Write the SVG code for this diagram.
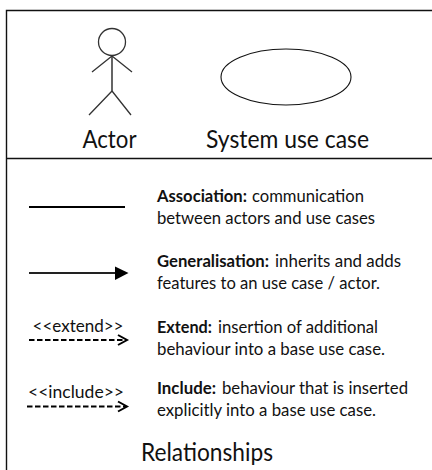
<svg xmlns="http://www.w3.org/2000/svg" width="432" height="470" viewBox="0 0 432 470">
<style>
text{font-family:Lato,"Open Sans",sans-serif;fill:#111;font-size:17.5px}
.b{font-weight:700}
.big{font-size:24.5px}
.lab{font-size:16.5px}
.frame{fill:none;stroke:#111;stroke-width:1.4}
.act{fill:none;stroke:#333;stroke-width:1.3}
.dash{fill:none;stroke:#000;stroke-width:1.8;stroke-dasharray:5.5 2.5}
.open{fill:none;stroke:#000;stroke-width:2}
</style>
<rect width="432" height="470" fill="#fff"/>
<g id="frame"><path class="frame" d="M432 10.5H6.5V470M6.5 158.500H432"/></g>
<g id="actor">
<circle class="act" cx="112" cy="42" r="13.500"/>
<path class="act" d="M112 56V91" style="stroke-width:1.8;stroke:#555"/>
<path class="act" d="M112 56L92 72M112 56L132 72M112 91L89 115M112 91L131 115"/>
<text class="big" x="82.500" y="148" textLength="54" lengthAdjust="spacingAndGlyphs">Actor</text>
</g>
<g id="usecase">
<ellipse cx="286" cy="77" rx="65" ry="28" fill="#fff" stroke="#111" stroke-width="1.1"/>
<text class="big" x="206" y="148" textLength="163" lengthAdjust="spacingAndGlyphs">System use case</text>
</g>
<g id="connectors">
<path d="M29 207H125" stroke="#000" stroke-width="2" fill="none"/>
<path d="M29 273H116" stroke="#222" stroke-width="2" fill="none"/>
<path d="M115 266.500L128.500 273L115 280Z" fill="#000"/>
<path class="dash" d="M29 340H126"/>
<path class="open" d="M118 335L127 340L118 345"/>
<path class="dash" d="M27 406.500H126"/>
<path class="open" d="M118 401.500L127 406.500L118 411.500"/>
</g>
<g id="label-extend"><text class="lab" x="32.500" y="332" textLength="91" lengthAdjust="spacingAndGlyphs">&lt;&lt;extend&gt;&gt;</text></g>
<g id="label-include"><text class="lab" x="28" y="398" textLength="96" lengthAdjust="spacingAndGlyphs">&lt;&lt;include&gt;&gt;</text></g>
<g id="desc-association">
<text class="b" x="157" y="202" textLength="90" lengthAdjust="spacingAndGlyphs">Association:</text>
<text x="252" y="202" textLength="112" lengthAdjust="spacingAndGlyphs">communication</text>
<text x="157" y="224" textLength="218" lengthAdjust="spacingAndGlyphs">between actors and use cases</text>
</g>
<g id="desc-generalisation">
<text class="b" x="157" y="267" textLength="112" lengthAdjust="spacingAndGlyphs">Generalisation:</text>
<text x="275" y="267" textLength="126" lengthAdjust="spacingAndGlyphs">inherits and adds</text>
<text x="157" y="289" textLength="223" lengthAdjust="spacingAndGlyphs">features to an use case / actor.</text>
</g>
<g id="desc-extend">
<text class="b" x="157" y="333" textLength="55" lengthAdjust="spacingAndGlyphs">Extend:</text>
<text x="218" y="333" textLength="160" lengthAdjust="spacingAndGlyphs">insertion of additional</text>
<text x="157" y="355" textLength="228" lengthAdjust="spacingAndGlyphs">behaviour into a base use case.</text>
</g>
<g id="desc-include">
<text class="b" x="157" y="394" textLength="59" lengthAdjust="spacingAndGlyphs">Include:</text>
<text x="222" y="394" textLength="186" lengthAdjust="spacingAndGlyphs">behaviour that is inserted</text>
<text x="157" y="416" textLength="219" lengthAdjust="spacingAndGlyphs">explicitly into a base use case.</text>
</g>
<g id="title"><text class="big" x="141" y="461" textLength="132" lengthAdjust="spacingAndGlyphs">Relationships</text></g>
</svg>
